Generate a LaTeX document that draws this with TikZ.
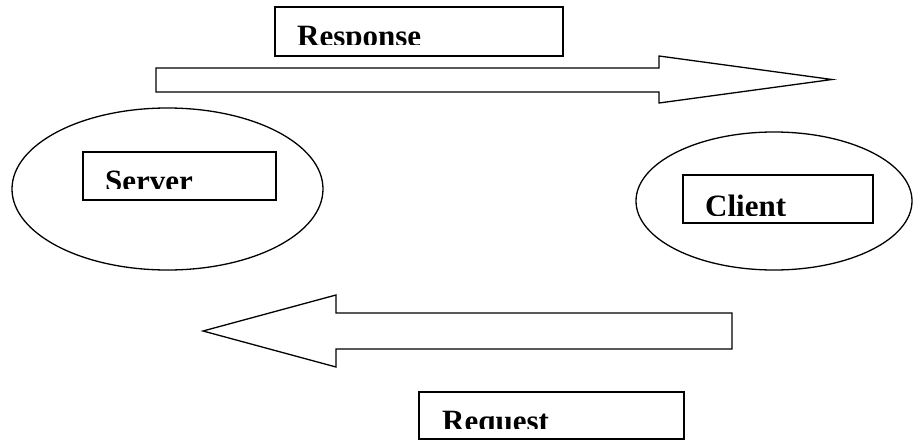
\documentclass[tikz,border=0pt]{standalone}
\usepackage{fontspec}
\setmainfont{Liberation Serif}
\usetikzlibrary{shapes.geometric}
\tikzset{
  oval/.style={ellipse, draw, line width=1.3pt, inner sep=0pt, outer sep=0pt},
  labelbox/.style={draw, rectangle, line width=1.6pt, inner sep=0pt, outer sep=0pt},
  labeltext/.style={anchor=base west, inner sep=0pt, font=\fontsize{31}{31}\selectfont\bfseries},
  bigarrow/.style={draw, line width=1.3pt, line join=miter, fill=white}
}
\begin{document}
\begin{tikzpicture}[x=1pt,y=-1pt]
\useasboundingbox (0,0) rectangle (915,439);
% ellipses
\node[oval, minimum width=311pt, minimum height=162pt] (srv) at (167.5,189) {};
\node[oval, minimum width=276pt, minimum height=138pt] (cli) at (774,201) {};
% arrows
\draw[bigarrow] (156,68) -- (659,68) -- (659,56) -- (832,79.5) -- (659,103) -- (659,92) -- (156,92) -- cycle;
\draw[bigarrow] (732,313) -- (336,313) -- (336,295) -- (203,331) -- (336,367) -- (336,349) -- (732,349) -- cycle;
% boxes
\node[labelbox, minimum width=288pt, minimum height=49pt] (respbox) at (419,31.5) {};
\node[labelbox, minimum width=193pt, minimum height=48pt] (srvbox) at (179.5,176) {};
\node[labelbox, minimum width=190pt, minimum height=48pt] (clibox) at (778,199) {};
\node[labelbox, minimum width=265pt, minimum height=47pt] (reqbox) at (551.5,415.5) {};
% clipped texts
\begin{scope}
\clip (278,9) rectangle (561,44.5);
\node[labeltext] (resptext) at (297,46) {Response};
\end{scope}
\begin{scope}
\clip (85,154) rectangle (274,188.5);
\node[labeltext] (srvtext) at (105,191) {Server};
\end{scope}
\begin{scope}
\clip (685,177) rectangle (871,215.5);
\node[labeltext] (clitext) at (705,216) {Client};
\end{scope}
\begin{scope}
\clip (421,394) rectangle (682,428.5);
\node[labeltext] (reqtext) at (442,431) {Request};
\end{scope}
\end{tikzpicture}
\end{document}
